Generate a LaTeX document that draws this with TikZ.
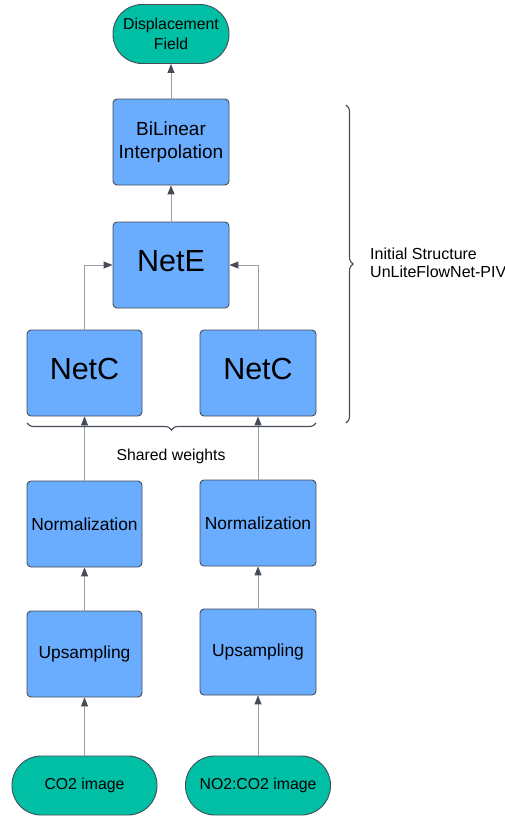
\documentclass[tikz,border=0pt]{standalone}
\usepackage{fontspec}
\setmainfont{Liberation Sans}
\usetikzlibrary{arrows.meta,decorations.pathreplacing}
\definecolor{boxblue}{HTML}{6AADFF}
\definecolor{teal}{HTML}{00BFA5}
\definecolor{edgedark}{HTML}{454C57}
\definecolor{linegray}{HTML}{9AA0A8}
\tikzset{
  box/.style={draw=edgedark, line width=0.9pt, fill=boxblue, rounded corners=4pt,
    minimum width=116pt, minimum height=86pt, inner sep=0pt, align=center, text=black},
  term/.style={draw=edgedark, line width=0.9pt, fill=teal, rounded corners=29pt,
    minimum height=59pt, inner sep=0pt, align=center, text=black},
  big/.style={font=\fontsize{30.5}{36}\selectfont, text height=22pt, text depth=10pt},
  mid/.style={font=\fontsize{17.4}{21}\selectfont},
  flow/.style={draw=linegray, line width=1pt, -{Triangle[length=9pt,width=7pt,color=edgedark,fill=edgedark]}},
  brc/.style={draw=edgedark, line width=1.1pt, decorate, decoration={brace, amplitude=7pt}}
}
\begin{document}
\begin{tikzpicture}[x=1pt,y=-1pt]
\useasboundingbox (0,0) rectangle (505,819);
\fill[white] (0,0) rectangle (505,819);

\node[term, minimum width=116pt, font=\fontsize{15.8}{20}\selectfont] (disp) at (171,34) {Displacement\\Field};
\node[box, font=\fontsize{19}{23}\selectfont] (bil) at (171,142) {BiLinear\\Interpolation};
\node[box, big] (nete) at (171,265) {NetE};
\node[box, big, minimum width=115pt] (netcl) at (84.5,373) {NetC};
\node[box, big] (netcr) at (258,373) {NetC};
\node[box, mid, minimum width=115pt] (norml) at (84.5,524) {Normalization};
\node[box, mid] (normr) at (258,523) {Normalization};
\node[box, mid, minimum width=115pt] (upl) at (84.5,654) {Upsampling};
\node[box, mid] (upr) at (258,652) {Upsampling};
\node[term, minimum width=145pt, font=\fontsize{15.8}{20}\selectfont] (co2) at (84.5,785.5) {CO2 image};
\node[term, minimum width=145pt, font=\fontsize{15.8}{20}\selectfont] (no2) at (258,785.5) {NO2:CO2 image};

\draw[flow] (co2) -- (upl);
\draw[flow] (upl) -- (norml);
\draw[flow] (norml) -- (netcl);
\draw[flow] (no2) -- (upr);
\draw[flow] (upr) -- (normr);
\draw[flow] (normr) -- (netcr);
\draw[flow] (netcl.north) |- (nete.west);
\draw[flow] (netcr.north) |- (nete.east);
\draw[flow] (nete) -- (bil);
\draw[flow] (bil) -- (disp);

\coordinate (b1) at (316,423);
\coordinate (b2) at (27,423);
\draw[brc] (b1) -- (b2);
\node[font=\fontsize{15.8}{20}\selectfont] (shared) at (171,456) {Shared weights};

\coordinate (r1) at (346,105);
\coordinate (r2) at (346,423);
\draw[brc] (r1) -- (r2);
\node[anchor=west, align=left, inner sep=0pt, font=\fontsize{16}{18.5}\selectfont] (init) at (370,263) {Initial Structure\\UnLiteFlowNet-PIV};
\end{tikzpicture}
\end{document}
